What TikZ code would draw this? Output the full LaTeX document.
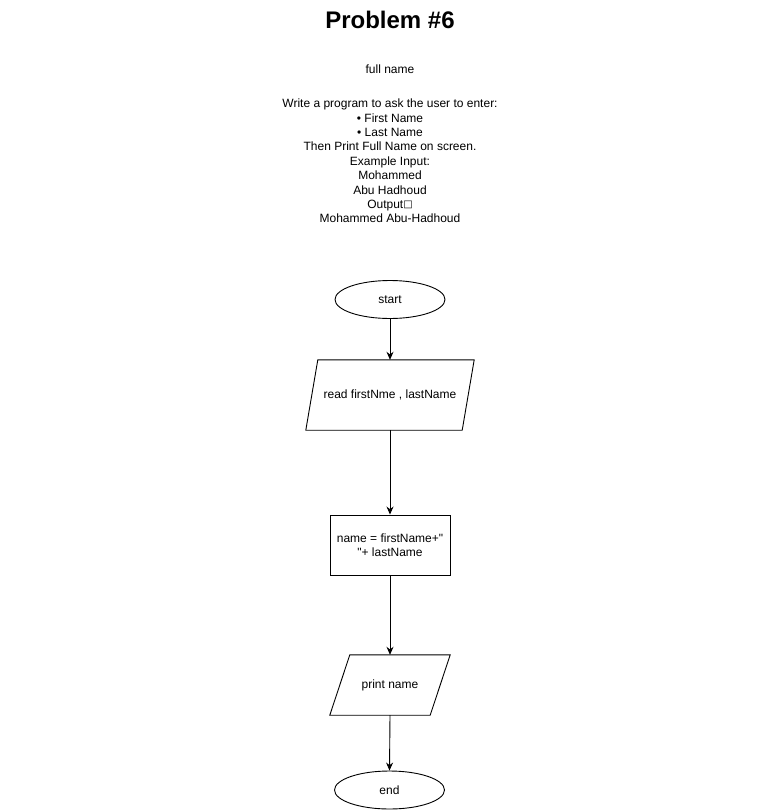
\documentclass[tikz,border=0pt]{standalone}
\usepackage{fontspec}
\setmainfont{Liberation Sans}[Ligatures=TeXOff]
\newfontfamily\symfont{DejaVu Sans}
\usetikzlibrary{shapes.geometric,arrows.meta}
\begin{document}
\begin{tikzpicture}[x=1pt,y=-1pt,
  every node/.style={font=\fontsize{12}{14.4}\selectfont, inner sep=0pt},
  term/.style={draw, ellipse, minimum width=110pt, minimum height=38pt, line width=0.9pt},
  iobox/.style={rectangle, align=center},
  procbox/.style={draw, rectangle, minimum width=120pt, minimum height=60pt, line width=0.9pt, align=center},
  outline/.style={line width=0.9pt, line join=miter},
  flow/.style={-{Stealth[length=8pt,width=7pt]}, line width=0.9pt}]
  \useasboundingbox (0,0) rectangle (780,811);
  \fill[white] (0,0) rectangle (780,811);

  % heading and problem statement
  \node (title) at (390,20) {\fontsize{24}{28}\selectfont\bfseries Problem \#6};
  \node (sub) at (390,69) {full name};
  \node (desc) at (390,161) [align=center] {Write a program to ask the user to enter:\\
    • First Name\\
    • Last Name\\
    Then Print Full Name on screen.\\
    Example Input:\\
    Mohammed\\
    Abu Hadhoud\\
    Output{\symfont\fontsize{10}{12}\selectfont\raisebox{0.5pt}{□}}\\
    Mohammed Abu-Hadhoud};

  % flowchart
  \node[term] (start) at (390,299.5) {start};
  \node[iobox, minimum width=168pt, minimum height=70pt] (read) at (390,395) {read firstNme , lastName};
  \draw[outline] ([xshift=12pt]read.north west) -- (read.north east)
    -- ([xshift=-12pt]read.south east) -- (read.south west) -- cycle;
  \node[procbox] (calc) at (390,545) {name = firstName+"\\"+ lastName};
  \node[iobox, minimum width=120pt, minimum height=60pt] (print) at (390,685) {print name};
  \draw[outline] ([xshift=20pt]print.north west) -- (print.north east)
    -- ([xshift=-20pt]print.south east) -- (print.south west) -- cycle;
  \node[term] (stop) at (389.5,790) {end};

  \draw[flow] (start.south) -- (read.north);
  \draw[flow] (read.south) -- (calc.north);
  \draw[flow] (calc.south) -- (print.north);
  \draw[flow] (print.south) -- (stop.north);
\end{tikzpicture}
\end{document}
